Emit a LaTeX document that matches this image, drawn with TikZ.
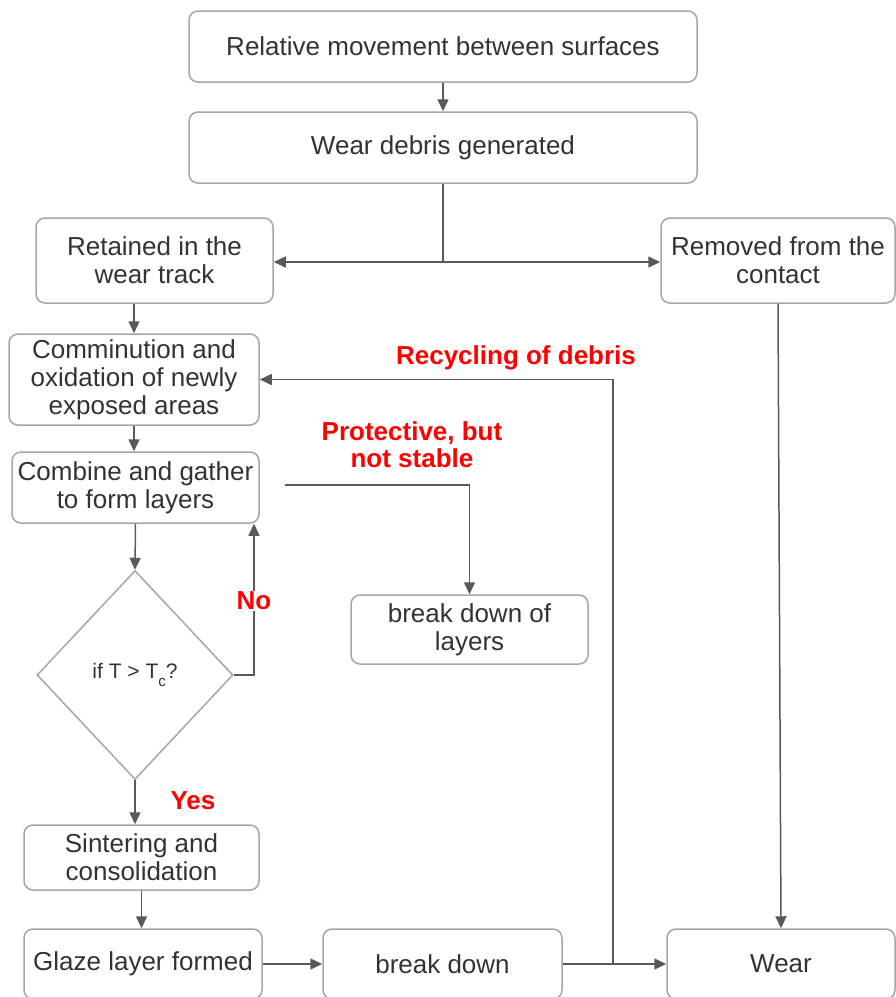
\documentclass[tikz,border=0pt]{standalone}
\usepackage{fontspec}
\setmainfont{Liberation Sans}
\usetikzlibrary{arrows.meta,shapes.geometric}
\definecolor{boxline}{HTML}{A6A6A6}
\definecolor{arrowc}{HTML}{595959}
\definecolor{txt}{HTML}{333333}
\definecolor{lblred}{HTML}{FF0000}
\begin{document}
\begin{tikzpicture}[x=1pt,y=-1pt,
 box/.style={draw=boxline, line width=1.5pt, rounded corners=9pt, fill=white, text=txt, font=\fontsize{26}{28}\selectfont, align=center, inner sep=0pt},
 conn/.style={draw=arrowc, line width=1.5pt, -{Triangle[length=12pt,width=11pt]}},
 lbl/.style={text=lblred, font=\bfseries\fontsize{26}{27}\selectfont, align=center, inner sep=1pt}
]
\useasboundingbox (0,0) rectangle (896,997);

\node[box, minimum width=508, minimum height=71] (b1) at (443,46.5) {Relative movement between surfaces};
\node[box, minimum width=508, minimum height=71] (b2) at (443,147.5) {Wear debris generated};
\node[box, minimum width=237, minimum height=85] (b3) at (154.5,260.5) {Retained in the\\wear track};
\node[box, minimum width=234, minimum height=85] (b4) at (778,260.5) {Removed from the\\contact};
\node[box, minimum width=250, minimum height=91] (b5) at (134,379.5) {Comminution and\\oxidation of newly\\exposed areas};
\node[box, minimum width=247, minimum height=71] (b6) at (135.5,487.5) {Combine and gather\\to form layers};
\node[box, minimum width=237, minimum height=69] (b7) at (469.5,629.5) {break down of\\layers};
\node[draw=boxline, line width=1.5pt, shape=diamond, minimum width=196, minimum height=209, inner sep=0pt, text=txt, font=\fontsize{21}{24}\selectfont] (d) at (135,675) {if T > T\raisebox{-0.35em}{\fontsize{15}{15}\selectfont c}?};
\node[box, minimum width=235, minimum height=65] (b8) at (141.5,857.5) {Sintering and\\consolidation};
\node[box, minimum width=238, minimum height=70] (b9) at (143,964) {Glaze layer formed};
\node[box, minimum width=239, minimum height=70] (b10) at (442.5,964) {break down};
\node[box, minimum width=228, minimum height=70] (b11) at (781,964) {Wear};

\coordinate (split) at (443,262);
\coordinate (pstart) at (285,485);
\coordinate (noX) at (254,0);
\coordinate (rc) at (613,964);

\draw[conn] (b1.south) -- (b2.north);
\draw[draw=arrowc, line width=1.5pt] (b2.south) -- (split);
\draw[conn] (split) -- (split -| b3.east);
\draw[conn] (split) -- (split -| b4.west);
\draw[conn] (b5.north |- b3.south) -- (b5.north);
\draw[conn] (b5.south) -- (b5.south |- b6.north);
\draw[conn] (b6.south) -- (d.north);
\draw[conn] (pstart) -- (pstart -| b7.north) -- (b7.north);
\draw[conn] (d.east) -- (d.east -| noX) -- (noX |- b6.south);
\draw[conn] (d.south) -- (d.south |- b8.north);
\draw[conn] (b8.south) -- (b8.south |- b9.north);
\draw[conn] (b9.east) -- (b10.west);
\draw[conn] (b10.east) -- (b11.west);
\draw[conn] (rc) |- (b5.east);
\draw[conn] (b4.south) -- (b11.north);

\node[lbl] (lrec) at (516,358) {Recycling of debris};
\node[lbl] (lprot) at (412,445) {Protective, but\\not stable};
\node[lbl, fill=white] (lno) at (254,601) {No};
\node[lbl] (lyes) at (193,801) {Yes};
\end{tikzpicture}
\end{document}
